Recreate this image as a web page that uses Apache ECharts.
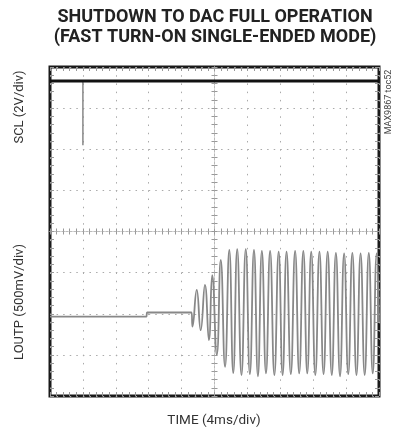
<!DOCTYPE html>
<html>
<head>
<meta charset="utf-8">
<script src="https://cdn.jsdelivr.net/npm/echarts@6/dist/echarts.min.js"></script>
<style>
  html, body { margin: 0; padding: 0; background: #fff; }
  #chart { width: 393px; height: 433px; }
</style>
</head>
<body>
<div id="chart"></div>
<script>
// time in ms from screen centre (4ms/div), levels in divisions from centre
const sclTime = [-20, 20];
const sclLevel = [3.66, 3.66];
const glitchTime = [-16, -16];
const glitchLevel = [3.66, 2.10];

const loutpTime = [
  -20, -8.28, -8.2, -2.8,
  -2.68, -2.16, -1.68, -1.16, -0.68, -0.28, 0.28, 0.76, 1.28, 1.80, 2.28,
  2.76, 3.28, 3.80, 4.30, 4.80, 5.28, 5.76, 6.26, 6.76, 7.28, 7.80, 8.28,
  8.76, 9.28, 9.80, 10.30, 10.80, 11.28, 11.76, 12.26, 12.76, 13.26, 13.76,
  14.26, 14.76, 15.26, 15.76, 16.26, 16.76, 17.26, 17.76, 18.26, 18.76,
  19.24, 19.72, 20
];
const loutpLevel = [
  -2.07, -2.07, -1.97, -1.97,
  -2.31, -1.42, -2.40, -1.30, -2.64, -1.06, -3.00, -0.69, -3.29, -0.45, -3.44,
  -0.43, -3.49, -0.43, -3.47, -0.45, -3.52, -0.47, -3.45, -0.47, -3.49, -0.49,
  -3.49, -0.49, -3.47, -0.47, -3.45, -0.47, -3.45, -0.49, -3.49, -0.49, -3.47,
  -0.49, -3.49, -0.52, -3.52, -0.53, -3.47, -0.52, -3.49, -0.53, -3.49, -0.52,
  -3.45, -0.53, -2.2
];

const pairs = (xs, ys) => xs.map((x, i) => [x, ys[i]]);

const chart = echarts.init(document.getElementById('chart'));

// graticule axes: on the centre cross or on the frame edge
const scopeAxis = (min, max, interval, pos, onZero, tickLen) => ({
  type: 'value', min: min, max: max, interval: interval, position: pos,
  axisLine: { show: onZero, onZero: onZero, lineStyle: { color: '#bbb', width: 1, type: [2, 2] } },
  axisTick: { show: true, inside: true, length: tickLen, lineStyle: { color: '#999' } },
  minorTick: { show: true, splitNumber: 5, length: tickLen, lineStyle: { color: '#999' } },
  axisLabel: { show: false },
  splitLine: { show: false }
});

const xMain = scopeAxis(-20, 20, 4, 'bottom', true, 3);
xMain.splitLine = { show: true, lineStyle: { color: '#aaa', width: 1, type: [1.5, 6.72] } };
const yMain = scopeAxis(-4, 4, 1, 'left', true, 3);
yMain.splitLine = { show: true, lineStyle: { color: '#aaa', width: 1, type: [1.5, 5.08] } };

const font = 'Roboto, "Liberation Sans", sans-serif';

chart.setOption({
  animation: false,
  grid: {
    left: 50, top: 67, width: 329, height: 329,
    show: true, borderColor: '#1a1a1a', borderWidth: 3, backgroundColor: '#fff'
  },
  xAxis: [
    xMain,
    scopeAxis(-20, 20, 4, 'top', true, 3),
    scopeAxis(-20, 20, 4, 'bottom', false, 4),
    scopeAxis(-20, 20, 4, 'top', false, 4)
  ],
  yAxis: [
    yMain,
    scopeAxis(-4, 4, 1, 'right', true, 3),
    scopeAxis(-4, 4, 1, 'left', false, 4),
    scopeAxis(-4, 4, 1, 'right', false, 4)
  ],
  series: [
    {
      type: 'line', data: pairs(glitchTime, glitchLevel), showSymbol: false,
      lineStyle: { color: '#888', width: 1.5 }
    },
    {
      type: 'line', data: pairs(sclTime, sclLevel), showSymbol: false,
      lineStyle: { color: '#111', width: 3 }
    },
    {
      type: 'line', data: pairs(loutpTime, loutpLevel), showSymbol: false, smooth: 0.5,
      lineStyle: { color: '#888', width: 1.8 }
    }
  ],
  graphic: [
    {
      type: 'text', x: 215, y: 17,
      style: { text: 'SHUTDOWN TO DAC FULL OPERATION', font: 'bold 18px ' + font, fill: '#222', textAlign: 'center', textVerticalAlign: 'middle' }
    },
    {
      type: 'text', x: 215, y: 37,
      style: { text: '(FAST TURN-ON SINGLE-ENDED MODE)', font: 'bold 18px ' + font, fill: '#222', textAlign: 'center', textVerticalAlign: 'middle' }
    },
    {
      type: 'text', x: 20, y: 107, rotation: Math.PI / 2,
      style: { text: 'SCL (2V/div)', font: '13px ' + font, fill: '#333', textAlign: 'center', textVerticalAlign: 'middle' }
    },
    {
      type: 'text', x: 20, y: 302, rotation: Math.PI / 2,
      style: { text: 'LOUTP (500mV/div)', font: '13px ' + font, fill: '#333', textAlign: 'center', textVerticalAlign: 'middle' }
    },
    {
      type: 'text', x: 214, y: 421,
      style: { text: 'TIME (4ms/div)', font: '13.5px ' + font, fill: '#333', textAlign: 'center', textVerticalAlign: 'middle' }
    },
    {
      type: 'text', x: 389, y: 102, rotation: Math.PI / 2,
      style: { text: 'MAX9867 toc52', font: '9px ' + font, fill: '#444', textAlign: 'center', textVerticalAlign: 'middle' }
    }
  ]
});
</script>
</body>
</html>
